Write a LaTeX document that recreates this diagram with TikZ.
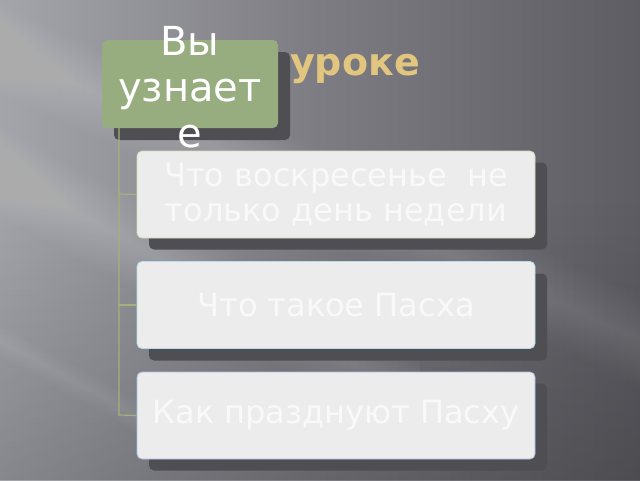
\documentclass[tikz,border=0pt]{standalone}
\usepackage{fontspec}
\setmainfont{DejaVu Sans}
\usetikzlibrary{positioning,fadings}
\definecolor{bgL}{HTML}{A4A5AB}
\definecolor{bgM}{HTML}{7C7C82}
\definecolor{bgR}{HTML}{5E5D63}
\definecolor{grn}{HTML}{97AD80}
\definecolor{shd}{HTML}{4E4E53}
\definecolor{boxfill}{HTML}{ECECED}
\definecolor{boxtext}{HTML}{F9F9F9}
\definecolor{gold}{HTML}{E2C680}
\definecolor{conn}{HTML}{A3B27C}
\definecolor{bordA}{HTML}{D6DCB8}
\definecolor{bordB}{HTML}{B8DCE8}
\definecolor{bordC}{HTML}{A8C0E8}
\tikzset{
  itembox/.style={draw, line width=0.8pt, fill=boxfill, rounded corners=5pt,
    minimum width=398pt, minimum height=87pt, inner sep=0pt,
    text=boxtext, align=center, font=\fontsize{32}{35}\selectfont},
  shadowbox/.style={fill=shd, rounded corners=5pt, minimum width=398pt,
    minimum height=87pt, inner sep=0pt},
  connector/.style={draw=conn, line width=1.2pt},
}
\begin{document}
\begin{tikzpicture}[x=1pt,y=-1pt]
\useasboundingbox (0,0) rectangle (640,480);
% background
\shade[left color=bgL, right color=bgR, middle color=bgM] (0,0) rectangle (640,480);
\fill[black, opacity=0.18, path fading=north] (0,200) rectangle (640,480);
\foreach \w in {3,6,...,45} {
  \fill[white, opacity=0.012] (-20,160-\w) -- (420,400-\w) -- (420,400+\w) -- (-20,160+\w) -- cycle;
  \fill[white, opacity=0.010] (-20,40-\w) -- (640,340-\w) -- (640,340+\w) -- (-20,40+\w) -- cycle;
}
\foreach \w in {2,4,...,16} {
  \fill[white, opacity=0.015] (-20,330-\w) -- (200,450-\w) -- (200,450+\w) -- (-20,330+\w) -- cycle;
}
% title fragment
\node[anchor=base west, text=gold, font=\bfseries\fontsize{38}{40}\selectfont, inner sep=0pt] (title) at (290,75) {уроке};
% green header shadow and box
\node[fill=shd, rounded corners=5pt, minimum width=176pt, minimum height=88pt, inner sep=0pt] (hshadow) at (202,96) {};
\node[fill=grn, rounded corners=5pt, minimum width=176pt, minimum height=88pt, inner sep=0pt] (head) at (190,84) {};
% item shadows
\node[shadowbox] (s1) at (348,206) {};
\node[shadowbox] (s2) at (348,317) {};
\node[shadowbox] (s3) at (348,427) {};
% connectors
\coordinate (top) at (119,128);
\coordinate (j1) at (119,194);
\coordinate (j2) at (119,305);
\coordinate (j3) at (119,415);
% item boxes
\node[itembox, draw=bordA] (b1) at (336,194.5) {Что воскресенье \ не\\только день недели};
\node[itembox, draw=bordB] (b2) at (336,305) {Что такое Пасха};
\node[itembox, draw=bordC] (b3) at (336,415.5) {Как празднуют Пасху};
\draw[connector] (top) -- (j3) -- (b3.west);
\draw[connector] (j1) -- (b1.west);
\draw[connector] (j2) -- (b2.west);
% header text
\node[text=white, align=center, font=\fontsize{40}{46}\selectfont, inner sep=0pt] (htext) at (190,87) {Вы\\узнает\\е};
\end{tikzpicture}
\end{document}
